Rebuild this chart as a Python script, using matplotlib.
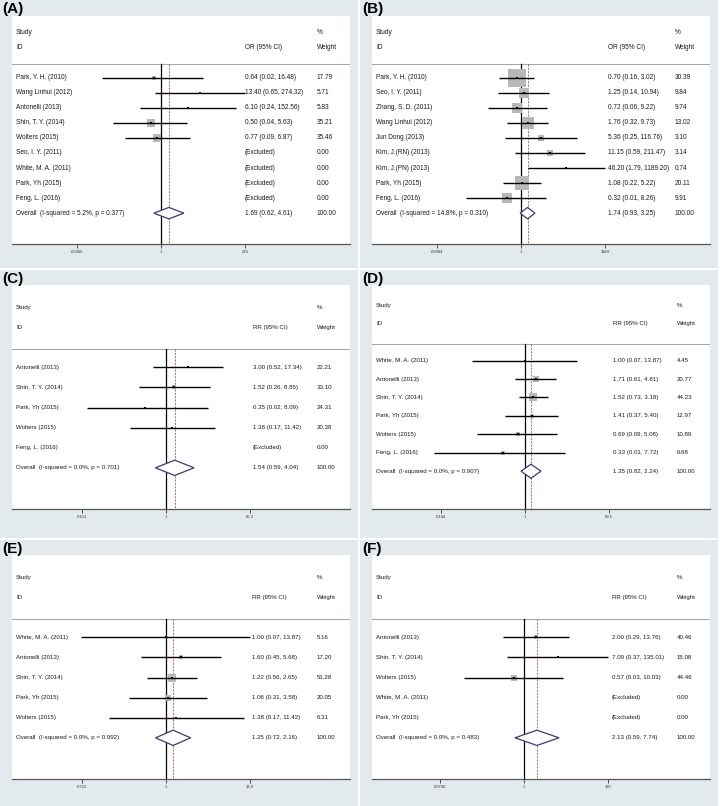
import numpy as np
import matplotlib.pyplot as plt
from matplotlib.patches import Rectangle, Polygon

plt.rcParams['font.family'] = ['Liberation Sans', 'DejaVu Sans']

W, H = 720, 806
nan = np.nan

# ---- (A) OR ----
a_study = ["Park, Y. H. (2010)", "Wang Linhui (2012)", "Antonelli (2013)", "Shin, T. Y. (2014)",
           "Wolters (2015)", "Seo, I. Y. (2011)", "White, M. A. (2011)", "Park, Yh (2015)", "Feng, L. (2016)"]
a_est = [0.64, 13.40, 6.10, 0.50, 0.77, nan, nan, nan, nan]
a_lo = [0.02, 0.65, 0.24, 0.04, 0.09, nan, nan, nan, nan]
a_hi = [16.48, 274.32, 152.56, 5.63, 6.87, nan, nan, nan, nan]
a_wt = [17.79, 5.71, 5.83, 35.21, 35.46, 0.00, 0.00, 0.00, 0.00]
a_overall = [1.69, 0.62, 4.61]
a_het = [5.2, 0.377]
a_ticks = [0.00365, 1, 274]
a_ticklabels = [".00365", "1", "274"]

# ---- (B) OR ----
b_study = ["Park, Y. H. (2010)", "Seo, I. Y. (2011)", "Zhang, S. D. (2011)", "Wang Linhui (2012)",
           "Jun Dong (2013)", "Kim, J.(RN) (2013)", "Kim, J.(PN) (2013)", "Park, Yh (2015)", "Feng, L. (2016)"]
b_est = [0.70, 1.25, 0.72, 1.76, 5.36, 11.15, 46.20, 1.08, 0.32]
b_lo = [0.16, 0.14, 0.06, 0.32, 0.25, 0.59, 1.79, 0.22, 0.01]
b_hi = [3.02, 10.94, 9.22, 9.73, 116.76, 211.47, 1189.20, 5.22, 8.26]
b_wt = [30.39, 9.84, 9.74, 13.02, 3.10, 3.14, 0.74, 20.11, 9.91]
b_overall = [1.74, 0.93, 3.25]
b_het = [14.8, 0.310]
b_ticks = [0.00084, 1, 1189]
b_ticklabels = [".00084", "1", "1189"]

# ---- (C) RR ----
c_study = ["Antonelli (2013)", "Shin, T. Y. (2014)", "Park, Yh (2015)", "Wolters (2015)", "Feng, L. (2016)"]
c_est = [3.00, 1.52, 0.35, 1.38, nan]
c_lo = [0.52, 0.26, 0.02, 0.17, nan]
c_hi = [17.34, 8.85, 8.09, 11.42, nan]
c_wt = [22.21, 33.10, 24.31, 20.38, 0.00]
c_overall = [1.54, 0.59, 4.04]
c_het = [0.0, 0.701]
c_ticks = [0.0153, 1, 65.3]
c_ticklabels = [".0153", "1", "65.3"]

# ---- (D) RR ----
d_study = ["White, M. A. (2011)", "Antonelli (2013)", "Shin, T. Y. (2014)", "Park, Yh (2015)",
           "Wolters (2015)", "Feng, L. (2016)"]
d_est = [1.00, 1.71, 1.52, 1.41, 0.69, 0.33]
d_lo = [0.07, 0.61, 0.73, 0.37, 0.09, 0.01]
d_hi = [13.87, 4.81, 3.18, 5.40, 5.08, 7.72]
d_wt = [4.45, 20.77, 44.23, 12.97, 10.89, 6.68]
d_overall = [1.35, 0.82, 2.24]
d_het = [0.0, 0.907]
d_ticks = [0.0144, 1, 69.5]
d_ticklabels = [".0144", "1", "69.5"]

# ---- (E) RR ----
e_study = ["White, M. A. (2011)", "Antonelli (2013)", "Shin, T. Y. (2014)", "Park, Yh (2015)", "Wolters (2015)"]
e_est = [1.00, 1.60, 1.22, 1.06, 1.38]
e_lo = [0.07, 0.45, 0.56, 0.31, 0.17]
e_hi = [13.87, 5.68, 2.65, 3.58, 11.42]
e_wt = [5.16, 17.20, 51.28, 20.05, 6.31]
e_overall = [1.25, 0.72, 2.16]
e_het = [0.0, 0.992]
e_ticks = [0.0721, 1, 13.9]
e_ticklabels = [".0721", "1", "13.9"]

# ---- (F) RR ----
f_study = ["Antonelli (2013)", "Shin, T. Y. (2014)", "Wolters (2015)", "White, M. A. (2011)", "Park, Yh (2015)"]
f_est = [2.00, 7.09, 0.57, nan, nan]
f_lo = [0.29, 0.37, 0.03, nan, nan]
f_hi = [13.76, 135.01, 10.03, nan, nan]
f_wt = [40.46, 15.08, 44.46, 0.00, 0.00]
f_overall = [2.13, 0.59, 7.74]
f_het = [0.0, 0.483]
f_ticks = [0.00740, 1, 135]
f_ticklabels = [".00740", "1", "135"]

panels = [
    ("(A)", "OR", a_study, a_est, a_lo, a_hi, a_wt, a_overall, a_het, a_ticks, a_ticklabels),
    ("(B)", "OR", b_study, b_est, b_lo, b_hi, b_wt, b_overall, b_het, b_ticks, b_ticklabels),
    ("(C)", "RR", c_study, c_est, c_lo, c_hi, c_wt, c_overall, c_het, c_ticks, c_ticklabels),
    ("(D)", "RR", d_study, d_est, d_lo, d_hi, d_wt, d_overall, d_het, d_ticks, d_ticklabels),
    ("(E)", "RR", e_study, e_est, e_lo, e_hi, e_wt, e_overall, e_het, e_ticks, e_ticklabels),
    ("(F)", "RR", f_study, f_est, f_lo, f_hi, f_wt, f_overall, f_het, f_ticks, f_ticklabels),
]

# layout in pixels: panel left/top/height, axis top/bottom, x of "1", est column, weight column, box scale, font
layout = [
    dict(px=0, py=0, ph=268, at=16, ab=244, c=161, ex=245, wx=317, box=1.18, fs=4.7),
    dict(px=360, py=0, ph=268, at=16, ab=244, c=161, ex=248, wx=315, box=3.27, fs=4.7),
    dict(px=0, py=270, ph=268, at=15, ab=239, c=166, ex=253, wx=317, box=0.55, fs=4.4),
    dict(px=360, py=270, ph=268, at=15, ab=239, c=165, ex=253, wx=317, box=1.35, fs=4.4),
    dict(px=0, py=540, ph=266, at=15, ab=239, c=166, ex=252, wx=317, box=1.12, fs=4.4),
    dict(px=360, py=540, ph=266, at=15, ab=239, c=164, ex=252, wx=317, box=0.75, fs=4.4),
]

PW = 358
AL, AR = 12, 350
SPAN = 84
bg = '#e2eaed'
txt = '#1a1a1a'

fig = plt.figure(figsize=(W / 100, H / 100), dpi=100)
fig.patch.set_facecolor('white')

for (lab, meas, study, est, lo, hi, wt, ov, het, ticks, ticklabels), L in zip(panels, layout):
    px, py = L['px'], L['py']
    fig.add_artist(Rectangle((px / W, 1 - (py + L['ph']) / H), PW / W, L['ph'] / H,
                             transform=fig.transFigure, facecolor=bg, edgecolor='none', zorder=0))
    fig.text((px + 2) / W, 1 - (py + 13.5) / H, lab, fontsize=11, fontweight='bold',
             va='baseline', ha='left', color='black')

    ax = fig.add_axes([(px + AL) / W, 1 - (py + L['ab']) / H, (AR - AL) / W, (L['ab'] - L['at']) / H])
    ax.set_facecolor('white')
    ax.set_xscale('log')
    k = SPAN / np.log10(ticks[2])
    ax.set_xlim(10 ** (-(L['c'] - AL) / k), 10 ** ((AR - L['c']) / k))
    n = len(study) + 1
    ybot = n + 2.05
    ax.set_ylim(ybot, -3.1)
    ax.set_yticks([])
    ax.minorticks_off()
    ax.set_xticks(ticks)
    ax.set_xticklabels(ticklabels)
    ax.tick_params(axis='x', length=3, width=0.6, labelsize=3, pad=1, colors='#333333')
    for s in ['top', 'left', 'right']:
        ax.spines[s].set_visible(False)
    ax.spines['bottom'].set_color('#555555')
    ax.spines['bottom'].set_linewidth(0.9)

    tr = ax.get_yaxis_transform()  # x in axes fraction, y in data
    fx = lambda p: (p - AL) / (AR - AL)
    fs = L['fs']

    # header
    ax.text(fx(16), -2, "Study", transform=tr, fontsize=fs, va='center', color=txt)
    ax.text(fx(16), -1, "ID", transform=tr, fontsize=fs, va='center', color=txt)
    ax.text(fx(L['ex']), -1, f"{meas} (95% CI)", transform=tr, fontsize=fs, va='center', color=txt)
    ax.text(fx(L['wx']), -2, "%", transform=tr, fontsize=fs, va='center', color=txt)
    ax.text(fx(L['wx']), -1, "Weight", transform=tr, fontsize=fs, va='center', color=txt)
    ax.axhline(0.1, color='#a8a8a8', lw=0.8)

    # reference lines
    ax.plot([1, 1], [0.1, ybot], color='black', lw=0.9, zorder=2)
    ax.plot([ov[0], ov[0]], [0.1, ybot], color='#c44a4a', lw=0.6, ls=(0, (2.5, 1.5)), zorder=2)

    for i in range(len(study)):
        y = i + 1
        ax.text(fx(16), y, study[i], transform=tr, fontsize=fs, va='center', color=txt)
        if np.isnan(est[i]):
            s = "(Excluded)"
        else:
            s = f"{est[i]:.2f} ({lo[i]:.2f}, {hi[i]:.2f})"
            side = L['box'] * np.sqrt(wt[i]) * 0.72
            ax.scatter([est[i]], [y], marker='s', s=side ** 2, color='#b8b8b8', lw=0, zorder=3)
            ax.plot([lo[i], hi[i]], [y, y], color='black', lw=1.0, zorder=4, solid_capstyle='butt')
            ax.scatter([est[i]], [y], marker='s', s=4, color='black', lw=0, zorder=5)
        ax.text(fx(L['ex']), y, s, transform=tr, fontsize=fs, va='center', color=txt)
        ax.text(fx(L['wx']), y, f"{wt[i]:.2f}", transform=tr, fontsize=fs, va='center', color=txt)

    # overall diamond
    y = n
    h = 0.38
    ax.add_patch(Polygon([(ov[1], y), (ov[0], y - h), (ov[2], y), (ov[0], y + h)], closed=True,
                         facecolor='white', edgecolor='#3a3a78', lw=0.9, zorder=6))
    ax.text(fx(16), y, f"Overall  (I-squared = {het[0]:.1f}%, p = {het[1]:.3f})", transform=tr,
            fontsize=fs, va='center', color=txt)
    ax.text(fx(L['ex']), y, f"{ov[0]:.2f} ({ov[1]:.2f}, {ov[2]:.2f})", transform=tr,
            fontsize=fs, va='center', color=txt)
    ax.text(fx(L['wx']), y, "100.00", transform=tr, fontsize=fs, va='center', color=txt)

fig.savefig("out.png", dpi=100)
